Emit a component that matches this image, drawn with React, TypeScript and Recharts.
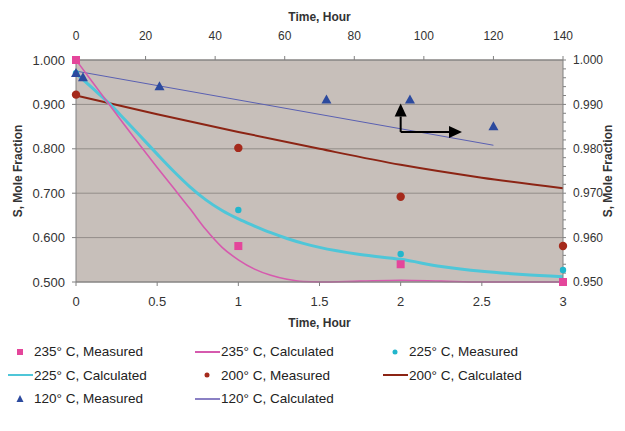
import { ComposedChart, Line, Scatter, XAxis, YAxis, CartesianGrid, ReferenceLine } from 'recharts';

// bottom axis: time in hours (0-3), left axis: S mole fraction 0.5-1.0
const bottomTicks = [0, 0.5, 1, 1.5, 2, 2.5, 3];
const leftTicks = [0.5, 0.6, 0.7, 0.8, 0.9, 1.0];
// top axis: time in hours (0-140), right axis: S mole fraction 0.95-1.0 (120° C series)
const topTicks = [0, 20, 40, 60, 80, 100, 120, 140];
const rightMajorTicks = [0.95, 0.96, 0.97, 0.98, 0.99, 1.0];

const measuredTime = [0, 1, 2, 3];
const s235Measured = [1.0, 0.581, 0.54, 0.5];
const s225Measured = [0.97, 0.662, 0.563, 0.527];
const s200Measured = [0.922, 0.802, 0.692, 0.581];

const calcTime = [0, 0.1, 0.2, 0.3, 0.4, 0.5, 0.6, 0.7, 0.8, 0.9, 1, 1.1, 1.2, 1.3, 1.4, 1.5, 1.75, 2, 2.25, 2.5, 2.75, 3];
const s235Calc = [1.0, 0.951, 0.902, 0.853, 0.805, 0.758, 0.712, 0.666, 0.618, 0.578, 0.55, 0.529, 0.515, 0.506, 0.501, 0.5, 0.502, 0.504, 0.502, 0.5, 0.5, 0.5];
const s225Calc = [0.97, 0.937, 0.904, 0.866, 0.827, 0.788, 0.75, 0.715, 0.685, 0.661, 0.642, 0.626, 0.611, 0.598, 0.587, 0.578, 0.562, 0.551, 0.535, 0.524, 0.517, 0.512];

const s200CalcTime = [0, 0.5, 1, 1.5, 2, 2.5, 3];
const s200Calc = [0.92, 0.878, 0.838, 0.8, 0.764, 0.735, 0.711];

const s120MeasuredHours = [0, 2, 24, 72, 96, 120];
const s120Measured = [0.9971, 0.9961, 0.9941, 0.9911, 0.9911, 0.9851];
const s120CalcHours = [0, 120];
const s120Calc = [0.9975, 0.9808];

// arrow annotation (bottom/left axes)
const arrowBase = { x: 2, y: 0.838 };
const arrowUp = { x: 2, y: 0.902 };
const arrowRight = { x: 2.378, y: 0.838 };

const pts = (xs: number[], ys: number[]) => xs.map((x, i) => ({ x, y: ys[i] }));

const rightTicks = Array.from({ length: 26 }, (_, i) => Math.round((0.95 + i * 0.002) * 1000) / 1000);

const PINK = '#e4469b';
const PINK_LINE = '#d65aae';
const CYAN = '#22b6cc';
const CYAN_LINE = '#4fc6d8';
const BROWN = '#a52a1c';
const BROWN_LINE = '#8c2414';
const BLUE = '#2c4a9e';
const BLUE_LINE = '#5a60b2';

const Square = (p: any) => <rect x={p.cx - 4} y={p.cy - 4} width={8} height={8} fill={PINK} />;
const Dot = (color: string, r: number) => (p: any) => <circle cx={p.cx} cy={p.cy} r={r} fill={color} />;
const Tri = (p: any) => (
  <polygon points={`${p.cx},${p.cy - 5} ${p.cx - 5},${p.cy + 4} ${p.cx + 5},${p.cy + 4}`} fill={BLUE} />
);

const Arrow = (p: any) => {
  const { x1, y1, x2, y2 } = p;
  const a = Math.atan2(y2 - y1, x2 - x1);
  const L = 13;
  const W = 6;
  const bx = x2 - L * Math.cos(a);
  const by = y2 - L * Math.sin(a);
  const px = -Math.sin(a) * W;
  const py = Math.cos(a) * W;
  return (
    <g>
      <line x1={x1} y1={y1} x2={bx} y2={by} stroke="#000" strokeWidth={2} />
      <polygon points={`${x2},${y2} ${bx + px},${by + py} ${bx - px},${by - py}`} fill="#000" />
    </g>
  );
};

const VTitle = (x: number) => (props: any) => {
  const vb = props.viewBox;
  const cy = vb.y + vb.height / 2;
  return (
    <text x={x} y={cy} transform={`rotate(-90, ${x}, ${cy})`} textAnchor="middle" dominantBaseline="central"
      fontSize={12} fontWeight="bold" fill="#333">
      S, Mole Fraction
    </text>
  );
};

const legendItems = [
  { label: '235° C, Measured', kind: 'square', color: PINK },
  { label: '235° C, Calculated', kind: 'line', color: PINK_LINE },
  { label: '225° C, Measured', kind: 'dot', color: CYAN },
  { label: '225° C, Calculated', kind: 'line', color: CYAN_LINE },
  { label: '200° C, Measured', kind: 'dot', color: BROWN },
  { label: '200° C, Calculated', kind: 'line', color: BROWN_LINE },
  { label: '120° C, Measured', kind: 'tri', color: BLUE },
  { label: '120° C, Calculated', kind: 'line', color: '#8a80c4' },
];

function LegendIcon({ kind, color }: { kind: string; color: string }) {
  return (
    <svg width={26} height={12} style={{ flex: 'none' }}>
      {kind === 'line' && <line x1={0} y1={6} x2={25} y2={6} stroke={color} strokeWidth={2} />}
      {kind === 'square' && <rect x={9} y={3} width={6} height={6} fill={color} />}
      {kind === 'dot' && <circle cx={12} cy={6} r={2.5} fill={color} />}
      {kind === 'tri' && <polygon points="12,2 8.5,9 15.5,9" fill={color} />}
    </svg>
  );
}

export default function App() {
  const tick = { fontSize: 13, fill: '#333' };
  return (
    <div style={{ position: 'absolute', left: 0, top: 0, width: 625, height: 431, background: '#fff', fontFamily: '"Liberation Sans", Arial, sans-serif' }}>
      <ComposedChart width={625} height={340} margin={{ top: 0, right: 0, bottom: 0, left: 0 }}>
        <CartesianGrid xAxisId="b" yAxisId="l" vertical={false} fill="#c7bfba" fillOpacity={1} stroke="#938d89" />
        <XAxis xAxisId="b" type="number" dataKey="x" domain={[0, 3]} ticks={bottomTicks} orientation="bottom"
          height={58} tick={tick} tickSize={4} tickMargin={11} stroke="#808080"
          label={{ value: 'Time, Hour', position: 'insideBottom', offset: 13, fontSize: 12, fontWeight: 'bold', fill: '#333' }} />
        <XAxis xAxisId="t" type="number" dataKey="x" domain={[0, 140]} ticks={topTicks} orientation="top"
          height={60} tick={{ fontSize: 12, fill: '#333' }} tickSize={4} tickMargin={16} stroke="#808080"
          label={{ value: 'Time, Hour', position: 'insideTop', offset: 12, fontSize: 12, fontWeight: 'bold', fill: '#333' }} />
        <YAxis yAxisId="l" type="number" dataKey="y" domain={[0.5, 1]} ticks={leftTicks} orientation="left"
          width={76} tick={tick} tickSize={4} tickMargin={7} stroke="#808080" interval={0}
          tickFormatter={(v: number) => v.toFixed(3)} label={{ content: VTitle(18) }} />
        <YAxis yAxisId="r" type="number" dataKey="y" domain={[0.95, 1]} ticks={rightTicks} orientation="right"
          width={62} tick={{ fontSize: 12, fill: '#333' }} tickSize={3} tickMargin={7} stroke="#808080" interval={0}
          tickFormatter={(v: number) => (rightMajorTicks.some((m) => Math.abs(m - v) < 1e-6) ? v.toFixed(3) : '')}
          label={{ content: VTitle(608) }} />

        <Line xAxisId="t" yAxisId="r" data={pts(s120CalcHours, s120Calc)} dataKey="y" type="linear"
          stroke={BLUE_LINE} strokeWidth={1} dot={false} isAnimationActive={false} />
        <Line xAxisId="b" yAxisId="l" data={pts(s200CalcTime, s200Calc)} dataKey="y" type="monotone"
          stroke={BROWN_LINE} strokeWidth={2} dot={false} isAnimationActive={false} />
        <Line xAxisId="b" yAxisId="l" data={pts(calcTime, s225Calc)} dataKey="y" type="monotone"
          stroke={CYAN_LINE} strokeWidth={3} dot={false} isAnimationActive={false} />
        <Line xAxisId="b" yAxisId="l" data={pts(calcTime, s235Calc)} dataKey="y" type="monotone"
          stroke={PINK_LINE} strokeWidth={1.6} dot={false} isAnimationActive={false} />

        <Scatter xAxisId="b" yAxisId="l" data={pts(measuredTime, s225Measured)} shape={Dot(CYAN, 3.2)} isAnimationActive={false} />
        <Scatter xAxisId="b" yAxisId="l" data={pts(measuredTime, s200Measured)} shape={Dot(BROWN, 4.2)} isAnimationActive={false} />
        <Scatter xAxisId="t" yAxisId="r" data={pts(s120MeasuredHours, s120Measured)} shape={Tri} isAnimationActive={false} />
        <Scatter xAxisId="b" yAxisId="l" data={pts(measuredTime, s235Measured)} shape={Square} isAnimationActive={false} />

        <ReferenceLine xAxisId="b" yAxisId="l" segment={[arrowBase, arrowUp]} shape={Arrow} />
        <ReferenceLine xAxisId="b" yAxisId="l" segment={[arrowBase, arrowRight]} shape={Arrow} />
      </ComposedChart>
      <div style={{ position: 'absolute', left: 8, top: 340, display: 'grid', gridTemplateColumns: '187px 188px 200px', fontSize: 13.5, color: '#222' }}>
        {legendItems.map((it) => (
          <div key={it.label} style={{ display: 'flex', alignItems: 'center', height: 23.5, whiteSpace: 'nowrap' }}>
            <LegendIcon kind={it.kind} color={it.color} />
            <span>{it.label}</span>
          </div>
        ))}
      </div>
    </div>
  );
}
